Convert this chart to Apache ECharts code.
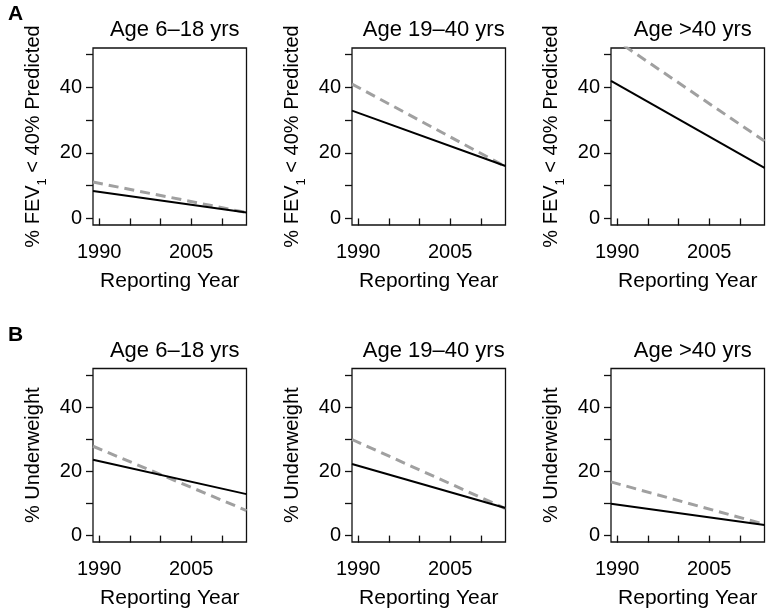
<!DOCTYPE html>
<html>
<head>
<meta charset="utf-8">
<script src="https://cdn.jsdelivr.net/npm/echarts@6/dist/echarts.min.js"></script>
<style>html,body{margin:0;padding:0;background:#fff;}#c{width:767px;height:610px;}</style>
</head>
<body>
<div id="c"></div>
<script>
// ---- data ----
const lineYears = [1989, 2014];
const ageGroups = ['Age 6\u201318 yrs', 'Age 19\u201340 yrs', 'Age >40 yrs'];
// [value at left edge, value at right edge]
const fevSolid  = [[8.4, 1.8], [32.9, 16.0], [42.0, 15.4]];
const fevDashed = [[11.1, 1.8], [41.0, 15.8], [55.4, 23.6]];
const uwSolid   = [[23.6, 12.9], [22.3, 8.6], [9.9, 3.3]];
const uwDashed  = [[27.8, 7.8], [29.9, 8.4], [16.7, 3.5]];
const yTicks = [0, 10, 20, 30, 40, 50];
const yLabels = [0, 20, 40];
const xTicks = [1990, 1995, 2000, 2005, 2010];
const xLabels = [1990, 2005];
const rowLabels = ['A', 'B'];

// ---- layout ----
const FONT = 'Liberation Sans, Arial, Helvetica, sans-serif';
const colLeft = [93, 352, 611];
const gridW = 153.5;
const rowTop = [48, 368.5];
const gridH = 177;

const grids = [], xAxes = [], yAxes = [], series = [], titles = [];
const rows = [
  {solid: fevSolid, dashed: fevDashed, name: '{a|% FEV}{s|1}{a| < 40% Predicted}'},
  {solid: uwSolid, dashed: uwDashed, name: '{a|% Underweight}'}
];
let idx = 0;
rows.forEach((row, r) => {
  titles.push({text: rowLabels[r], left: 3, top: rowTop[r] - 49,
    textStyle: {fontFamily: FONT, fontSize: 21, fontWeight: 'bold', color: '#000'}});
  for (let c = 0; c < 3; c++) {
    grids.push({left: colLeft[c], top: rowTop[r], width: gridW, height: gridH,
      show: true, borderColor: '#111', borderWidth: 1.3, backgroundColor: 'transparent', containLabel: false});
    titles.push({text: ageGroups[c], left: colLeft[c] + gridW / 2, textAlign: 'center', top: rowTop[r] - 34,
      textStyle: {fontFamily: FONT, fontSize: 22, fontWeight: 'normal', color: '#000'}});
    xAxes.push({type: 'value', gridIndex: idx, min: 1989, max: 2014,
      name: 'Reporting Year', nameLocation: 'middle', nameGap: 46,
      nameTextStyle: {fontFamily: FONT, fontSize: 21, color: '#000'},
      axisLine: {show: false},
      axisTick: {show: true, length: 7, customValues: xTicks, lineStyle: {color: '#111', width: 1.3}},
      axisLabel: {customValues: xLabels, margin: 17, fontFamily: FONT, fontSize: 20, color: '#000',
        formatter: v => String(v)},
      splitLine: {show: false}});
    yAxes.push({type: 'value', gridIndex: idx, min: -2, max: 52,
      name: row.name, nameLocation: 'middle', nameGap: 48, nameRotate: 90,
      nameTextStyle: {fontFamily: FONT, color: '#000',
        rich: {a: {fontFamily: FONT, fontSize: 20, color: '#000', lineHeight: 24, verticalAlign: 'middle'},
               s: {fontFamily: FONT, fontSize: 13, color: '#000', lineHeight: 14, verticalAlign: 'bottom', padding: [0, 0, -4, 0]}}},
      axisLine: {show: false},
      axisTick: {show: true, length: 7, customValues: yTicks, lineStyle: {color: '#111', width: 1.3}},
      axisLabel: {customValues: yLabels, margin: 11, fontFamily: FONT, fontSize: 20, color: '#000',
        formatter: v => String(v)},
      splitLine: {show: false}});
    series.push({type: 'line', xAxisIndex: idx, yAxisIndex: idx, symbol: 'none', clip: true,
      data: lineYears.map((y, i) => [y, row.dashed[c][i]]),
      lineStyle: {color: '#a0a0a0', width: 3, type: [10, 6]}, z: 2});
    series.push({type: 'line', xAxisIndex: idx, yAxisIndex: idx, symbol: 'none', clip: true,
      data: lineYears.map((y, i) => [y, row.solid[c][i]]),
      lineStyle: {color: '#000', width: 2}, z: 3});
    idx++;
  }
});

const chart = echarts.init(document.getElementById('c'), null, {renderer: 'canvas'});
chart.setOption({
  animation: false,
  backgroundColor: '#fff',
  title: titles,
  grid: grids,
  xAxis: xAxes,
  yAxis: yAxes,
  series: series
});
</script>
</body>
</html>
